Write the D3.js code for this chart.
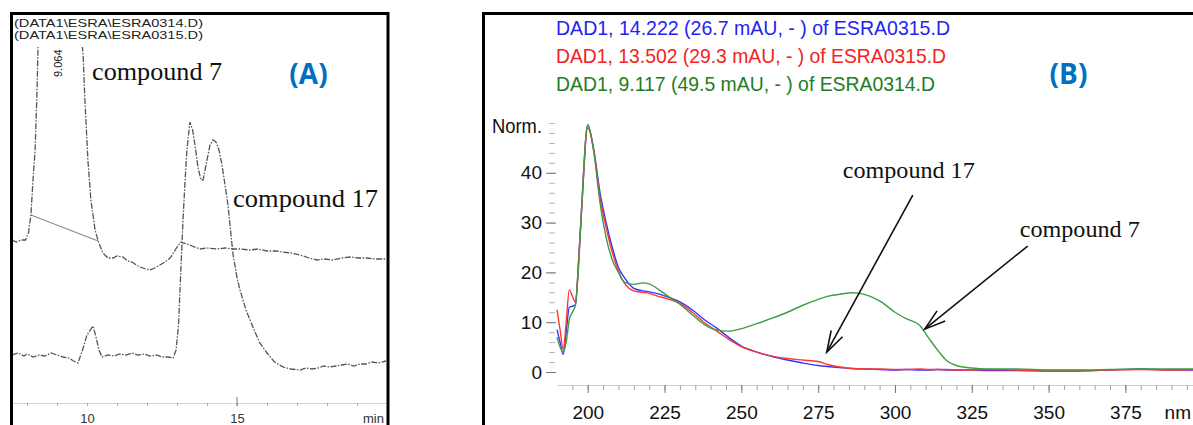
<!DOCTYPE html>
<html>
<head>
<meta charset="utf-8">
<script src="https://cdn.jsdelivr.net/npm/d3@7"></script>
<style>
  body { margin: 0; background: #fff; }
  svg { display: block; }
</style>
</head>
<body>
<div id="vis"></div>
<script>
var width = 1193, height = 425;

// ---- panel A: chromatograms [time (min), signal] ----
const trace0314 = [
    [7.5, 33], [7.65, 32.6], [7.8, 33], [7.95, 33], [8.05, 34.5], [8.13, 38], [8.2, 45], [8.27, 51],
    [8.33, 62], [8.4, 80], [8.6, 110], [9.06, 140], [9.5, 110], [9.75, 78], [9.87, 70], [9.93, 61],
    [10.03, 49], [10.13, 41], [10.27, 35], [10.37, 32.8], [10.53, 30.4], [10.7, 29.4], [10.87, 29.4],
    [11.0, 29.8], [11.2, 29.6], [11.35, 28.8], [11.5, 28.6], [11.65, 28], [11.77, 27.6], [11.95, 27.2],
    [12.1, 27], [12.25, 27.4], [12.43, 28], [12.6, 28.6], [12.77, 29.4], [12.9, 30.6], [13.0, 31.6],
    [13.13, 32.6], [13.2, 32.4], [13.33, 32.2], [13.5, 31.8], [13.77, 31.2], [14.0, 31.4], [14.33, 31.2],
    [14.6, 31.4], [14.87, 31.2], [15.1, 31.2], [15.43, 31], [15.7, 31.2], [16.0, 30.8], [16.3, 30.8],
    [16.53, 30.6], [16.8, 30.4], [17.1, 30], [17.4, 29.4], [17.67, 29], [17.9, 29.2], [18.2, 29],
    [18.5, 29.4], [18.77, 29.6], [19.05, 29.4], [19.33, 29.4], [19.6, 29.2], [19.97, 29.2]
];
const trace0315 = [
    [7.5, 10], [7.7, 10.4], [7.9, 9.8], [8.0, 10.2], [8.2, 9.6], [8.4, 10], [8.6, 9.8], [8.8, 10.4],
    [9.0, 10], [9.2, 9.6], [9.4, 9.4], [9.55, 8.8], [9.7, 8.4], [9.85, 11], [10.0, 14], [10.2, 15.8],
    [10.3, 13.6], [10.4, 11], [10.5, 9.6], [10.7, 10], [10.9, 9.8], [11.1, 10.2], [11.3, 10], [11.5, 10.4],
    [11.7, 10], [11.9, 10.2], [12.1, 9.8], [12.3, 10], [12.5, 9.6], [12.7, 9.6], [12.87, 9.4], [12.97, 11],
    [13.05, 16], [13.1, 23], [13.15, 30], [13.2, 37], [13.27, 45], [13.33, 51], [13.43, 56.6], [13.52, 55],
    [13.6, 52], [13.7, 47.5], [13.8, 45], [13.87, 45], [14.0, 49], [14.1, 52], [14.2, 53], [14.3, 52.6],
    [14.4, 51], [14.5, 48], [14.6, 44], [14.7, 40], [14.8, 34], [14.87, 30], [15.0, 25.5], [15.1, 23],
    [15.3, 19], [15.53, 15.6], [15.75, 12.5], [16.0, 10.4], [16.25, 8.6], [16.53, 7.6], [16.8, 7.2],
    [17.1, 7], [17.3, 7.4], [17.5, 7.2], [17.7, 7.4], [17.9, 7.8], [18.1, 7.6], [18.3, 7.8], [18.5, 8.0],
    [18.7, 8.2], [18.9, 7.8], [19.1, 8.2], [19.3, 8.2], [19.5, 8.6], [19.7, 8.4], [19.97, 8.8]
];
const integrationBase = [[8.13, 38], [10.37, 32.8]];
const fileLabels = ["(DATA1\\ESRA\\ESRA0314.D)", "(DATA1\\ESRA\\ESRA0315.D)"];
const timeTicks = [10, 15];
const peakLabel = { t: 9.064, text: "9.064" };
const annotA = [
    { text: "compound 7", t: 10.17, v: 65, len: 130 },
    { text: "compound 17", t: 14.87, v: 39.6, len: 145 }
];

// ---- panel B: UV spectra ----
const wavelengths = [190, 191, 192, 193, 194, 195, 196, 197, 198, 200, 202, 204, 206, 208, 210, 212, 215,
    218, 220, 223, 226, 230, 234, 238, 242, 246, 250, 255, 260, 265, 270, 275, 278, 282, 286, 290, 295,
    300, 304, 308, 311, 314, 317, 320, 325, 330, 340, 350, 360, 370, 380, 390, 397];
const spectrumBlue = [8.5, 6, 3.5, 8, 13, 13.2, 13.5, 22, 32.5, 49.6, 44.5, 36, 30, 25, 21, 18.9, 16.8,
    16.3, 16.1, 15.7, 15.1, 14.1, 12.5, 10.5, 8.8, 6.9, 5.2, 4.0, 3.1, 2.4, 1.8, 1.3, 1.1, 0.9, 0.7, 0.6, 0.5,
    0.4, 0.5, 0.4, 0.4, 0.5, 0.4, 0.4, 0.4, 0.3, 0.3, 0.2, 0.2, 0.4, 0.6, 0.4, 0.4];
const spectrumRed = [12.5, 8.5, 4.5, 10, 16.5, 15.2, 14, 22, 32.5, 49, 44.5, 35, 29, 24, 20.3, 17.8, 16.3,
    16, 15.8, 15.2, 14.7, 13.8, 12, 9.9, 8.2, 6.5, 5.1, 4.0, 3.2, 2.7, 2.4, 2.1, 1.5, 1.0, 0.7, 0.6, 0.6,
    0.5, 0.5, 0.6, 0.5, 0.5, 0.5, 0.4, 0.4, 0.5, 0.4, 0.3, 0.3, 0.4, 0.5, 0.4, 0.5];
const spectrumGreen = [7, 5, 4, 6, 10.5, 12, 13.5, 21, 33, 49.6, 44, 34, 27, 22.5, 20, 18, 17.6,
    17.9, 17.7, 16.6, 15.3, 13.6, 11.5, 9.5, 8.4, 8.2, 8.7, 9.7, 10.8, 12, 13.4, 14.6, 15.2, 15.6, 15.9, 15.6, 14.3,
    12.0, 10.6, 9.4, 6.8, 4.3, 2.2, 1.3, 0.8, 0.6, 0.6, 0.4, 0.4, 0.5, 0.6, 0.6, 0.6];
const legendLabels = [
    "DAD1, 14.222 (26.7 mAU, - ) of ESRA0315.D",
    "DAD1, 13.502 (29.3 mAU, - ) of ESRA0315.D",
    "DAD1, 9.117 (49.5 mAU, - ) of ESRA0314.D"
];
const legendLengths = [394, 390, 379];
const nmTicks = [200, 225, 250, 275, 300, 325, 350, 375];
const normTicks = [0, 10, 20, 30, 40];
const annotB = [
    { text: "compound 17", nm: 283, v: 39, len: 132, from: [305.8, 35.5], to: [277.8, 4.0] },
    { text: "compound 7", nm: 340.6, v: 27.1, len: 120, from: [343.2, 25.3], to: [309.7, 8.6] }
];

const sansFont = "'Liberation Sans', Arial, sans-serif";
const serifFont = "'Liberation Serif', 'Times New Roman', serif";
const panelFont = "'Open Sans', 'Liberation Sans', sans-serif";

const svg = d3.select("#vis")
    .append("svg")
    .attr("width", width)
    .attr("height", height);

// ================= Panel A =================
const xA = d3.scaleLinear().domain([7.5, 20]).range([12, 387]);
const yA = d3.scaleLinear().domain([0, 70]).range([405, 55]);

const gA = svg.append("g");

svg.append("defs").append("clipPath")
    .attr("id", "clipA")
    .append("rect")
    .attr("x", 12).attr("y", 47)
    .attr("width", 375).attr("height", 355);

// x axis (time)
const axA = gA.append("g").attr("transform", "translate(0,403)");
axA.call(d3.axisBottom(xA).tickValues(d3.range(8, 20, 1)).tickSize(3).tickSizeOuter(0).tickFormat(""));
axA.select(".domain").attr("stroke", "#d4d4d4");
axA.selectAll(".tick line").attr("stroke", "#aaa");

const axA2 = gA.append("g").attr("transform", "translate(0,403)");
axA2.call(d3.axisBottom(xA).tickValues(timeTicks).tickSize(0).tickFormat(d3.format("d")));
axA2.select(".domain").remove();
axA2.selectAll("text")
    .attr("y", 20).attr("dy", 0)
    .style("font-family", sansFont)
    .style("font-size", "13px")
    .attr("fill", "#333");
gA.append("line")
    .attr("x1", xA(15)).attr("x2", xA(15))
    .attr("y1", 397).attr("y2", 406)
    .attr("stroke", "#777");
gA.append("text")
    .attr("x", 363).attr("y", 423)
    .style("font-family", sansFont)
    .style("font-size", "13px")
    .attr("fill", "#333")
    .text("min");

const lineA = d3.line()
    .x(d => xA(d[0]))
    .y(d => yA(d[1]));

const tracesA = gA.append("g").attr("clip-path", "url(#clipA)");
tracesA.append("path")
    .datum(integrationBase)
    .attr("d", lineA)
    .attr("fill", "none")
    .attr("stroke", "#8a8a8a")
    .attr("stroke-width", 1.1);

[trace0314, trace0315].forEach(tr => {
    tracesA.append("path")
        .datum(tr)
        .attr("d", lineA)
        .attr("fill", "none")
        .attr("stroke", "#555")
        .attr("stroke-width", 1.3)
        .attr("stroke-dasharray", "6,1.5,1.5,1.5");
});

// file names at top
fileLabels.forEach((t, i) => {
    gA.append("text")
        .attr("x", 14).attr("y", 26.5 + i * 12.5)
        .attr("textLength", 189)
        .attr("lengthAdjust", "spacingAndGlyphs")
        .style("font-family", sansFont)
        .style("font-size", "10.5px")
        .attr("fill", "#222")
        .text(t);
});

// retention time label
gA.append("text")
    .attr("transform", `translate(${xA(peakLabel.t) + 3},77) rotate(-90)`)
    .style("font-family", sansFont)
    .style("font-size", "11px")
    .attr("fill", "#222")
    .text(peakLabel.text);

annotA.forEach(a => {
    gA.append("text")
        .attr("x", xA(a.t)).attr("y", yA(a.v))
        .attr("textLength", a.len)
        .attr("lengthAdjust", "spacingAndGlyphs")
        .style("font-family", serifFont)
        .style("font-size", "25px")
        .attr("fill", "#111")
        .text(a.text);
});

gA.append("text")
    .attr("x", 308.5).attr("y", 84)
    .attr("text-anchor", "middle")
    .style("font-family", panelFont)
    .style("font-weight", "bold")
    .style("font-size", "28px")
    .attr("fill", "#0070C0")
    .text("(A)");

// frame A
gA.append("path")
    .attr("d", "M11.5,430V13.5H388V430")
    .attr("fill", "none")
    .attr("stroke", "#000")
    .attr("stroke-width", 3);

// ================= Panel B =================
const xB = d3.scaleLinear().domain([190, 397]).range([557, 1193]);
const yB = d3.scaleLinear().domain([0, 50]).range([372, 123]);

const gB = svg.append("g");

// legend
const legendColors = ["#2323f2", "#f22323", "#1e7d22"];
legendLabels.forEach((t, i) => {
    gB.append("text")
        .attr("x", 556).attr("y", 35 + i * 28)
        .attr("textLength", legendLengths[i])
        .attr("lengthAdjust", "spacingAndGlyphs")
        .style("font-family", sansFont)
        .style("font-size", "21px")
        .attr("fill", legendColors[i])
        .text(t);
});

gB.append("text")
    .attr("x", 1068.5).attr("y", 84)
    .attr("text-anchor", "middle")
    .style("font-family", panelFont)
    .style("font-weight", "bold")
    .style("font-size", "28px")
    .attr("fill", "#0070C0")
    .text("(B)");

// y axis
const ayMinor = gB.append("g").attr("transform", "translate(555,0)");
ayMinor.call(d3.axisLeft(yB).tickValues(d3.range(0, 51, 2)).tickSize(6).tickFormat(""));
ayMinor.select(".domain").remove();
ayMinor.selectAll(".tick line").attr("stroke", "#b5b5b5");

const ayMajor = gB.append("g").attr("transform", "translate(556,0)");
ayMajor.call(d3.axisLeft(yB).tickValues(normTicks).tickSize(10).tickPadding(4).tickFormat(d3.format("d")));
ayMajor.select(".domain").remove();
ayMajor.selectAll(".tick line").attr("stroke", "#777");
ayMajor.selectAll("text")
    .style("font-family", sansFont)
    .style("font-size", "19px")
    .attr("fill", "#111");

gB.append("text")
    .attr("x", 492).attr("y", 133)
    .attr("textLength", 50)
    .attr("lengthAdjust", "spacingAndGlyphs")
    .style("font-family", sansFont)
    .style("font-size", "20px")
    .attr("fill", "#111")
    .text("Norm.");

// x axis
const axMinor = gB.append("g").attr("transform", "translate(0,385)");
axMinor.call(d3.axisBottom(xB).tickValues(d3.range(195, 397, 5)).tickSize(5).tickSizeOuter(0).tickFormat(""));
axMinor.select(".domain").attr("stroke", "#cfcfcf");
axMinor.selectAll(".tick line").attr("stroke", "#a5a5a5");

const axMajor = gB.append("g").attr("transform", "translate(0,385)");
axMajor.call(d3.axisBottom(xB).tickValues(nmTicks).tickSize(8).tickFormat(d3.format("d")));
axMajor.select(".domain").remove();
axMajor.selectAll(".tick line").attr("stroke", "#777");
axMajor.selectAll("text")
    .attr("y", 34).attr("dy", 0)
    .style("font-family", sansFont)
    .style("font-size", "19px")
    .attr("fill", "#111");

gB.append("text")
    .attr("x", 1191).attr("y", 419)
    .attr("text-anchor", "end")
    .style("font-family", sansFont)
    .style("font-size", "19px")
    .attr("fill", "#111")
    .text("nm");

// spectra
const lineB = d3.line()
    .x((d, i) => xB(wavelengths[i]))
    .y(d => yB(d))
    .curve(d3.curveMonotoneX);

const spectra = [
    { values: spectrumBlue, color: "#3535ff" },
    { values: spectrumRed, color: "#ff3535" },
    { values: spectrumGreen, color: "#3f9d45" }
];
spectra.forEach(s => {
    gB.append("path")
        .datum(s.values)
        .attr("d", lineB)
        .attr("fill", "none")
        .attr("stroke", s.color)
        .attr("stroke-width", 1.4);
});

// annotations with arrows
annotB.forEach(a => {
    gB.append("text")
        .attr("x", xB(a.nm)).attr("y", yB(a.v))
        .attr("textLength", a.len)
        .attr("lengthAdjust", "spacingAndGlyphs")
        .style("font-family", serifFont)
        .style("font-size", "24px")
        .attr("fill", "#111")
        .text(a.text);

    const x1 = xB(a.from[0]), y1 = yB(a.from[1]);
    const x2 = xB(a.to[0]), y2 = yB(a.to[1]);
    const ang = Math.atan2(y1 - y2, x1 - x2);
    const headLen = 22, spread = 0.3;
    gB.append("line")
        .attr("x1", x1).attr("y1", y1)
        .attr("x2", x2).attr("y2", y2)
        .attr("stroke", "#111")
        .attr("stroke-width", 1.6);
    gB.append("path")
        .attr("d", `M${x2 + headLen * Math.cos(ang - spread)},${y2 + headLen * Math.sin(ang - spread)}` +
                   `L${x2},${y2}` +
                   `L${x2 + headLen * Math.cos(ang + spread)},${y2 + headLen * Math.sin(ang + spread)}`)
        .attr("fill", "none")
        .attr("stroke", "#111")
        .attr("stroke-width", 1.6);
});

// frame B (open on the right and bottom)
gB.append("path")
    .attr("d", "M483.5,430V13.5H1200")
    .attr("fill", "none")
    .attr("stroke", "#000")
    .attr("stroke-width", 3);
</script>
</body>
</html>
